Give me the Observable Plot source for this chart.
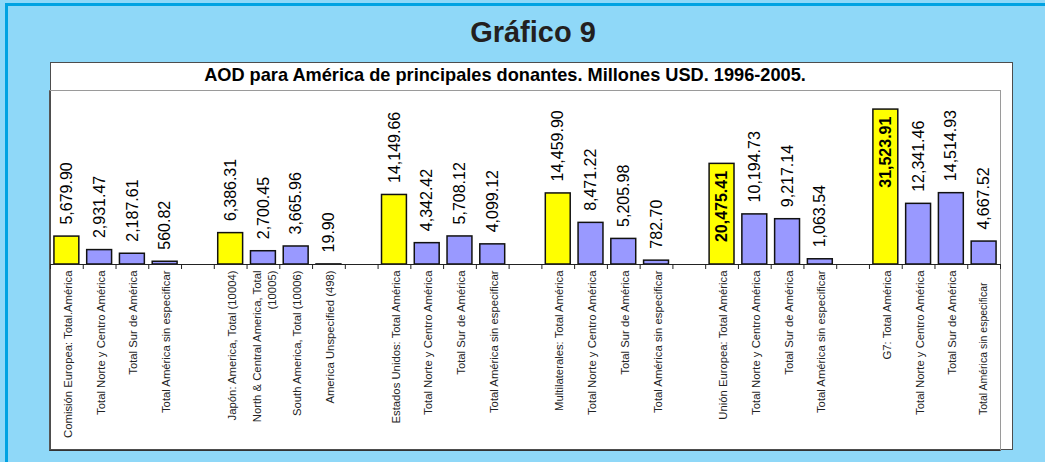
<!DOCTYPE html>
<html><head><meta charset="utf-8">
<script src="https://cdn.jsdelivr.net/npm/d3@7"></script>
<script src="https://cdn.jsdelivr.net/npm/@observablehq/plot@0.6"></script>
<style>
body{margin:0;background:#8fd8f8;width:1045px;height:462px;overflow:hidden;position:relative;font-family:"Liberation Sans",Arial,sans-serif;}
#frame{position:absolute;left:5px;top:3px;width:1100px;height:520px;border:3px solid #00a2e2;box-sizing:border-box}
#title{position:absolute;left:0;width:1066px;top:18px;text-align:center;font-weight:bold;font-size:29px;line-height:29px;color:#231f20}
#box{position:absolute;left:50px;top:62px;width:963px;height:388px;background:#fff;border:1px solid #4d4d4d;box-sizing:border-box}
#subtitle{position:absolute;left:0;width:1010px;top:65px;text-align:center;font-weight:bold;font-size:18.2px;line-height:20px;color:#000}
#inner{position:absolute;left:49px;top:90px;width:952px;height:361px;border:1px solid #9a9a9a;border-left-color:#555;border-bottom-color:#333;box-sizing:border-box}
#chart{position:absolute;left:0;top:0}
</style></head><body>
<div id="frame"></div>
<div id="title">Gráfico 9</div>
<div id="box"></div>
<div id="subtitle">AOD para América de principales donantes. Millones USD. 1996-2005.</div>
<div id="inner"></div>
<div id="chart"></div>
<script>
// ---- data ----
const groupLabels = [
  ["Comisión Europea: Total.América", "Total Norte y Centro América", "Total Sur de América", "Total América sin especificar"],
  ["Japón: America, Total (10004)", "North & Central America, Total\n(10005)", "South America, Total (10006)", "America Unspecified (498)"],
  ["Estados Unidos: Total América", "Total Norte y Centro América", "Total Sur de América", "Total América sin especificar"],
  ["Multilaterales: Total América", "Total Norte y Centro América", "Total Sur de América", "Total América sin especificar"],
  ["Unión Europea: Total América", "Total Norte y Centro América", "Total Sur de América", "Total América sin especificar"],
  ["G7: Total América", "Total Norte y Centro América", "Total Sur de América", "Total América sin especificar"]
];
const groupValues = [
  [5679.90, 2931.47, 2187.61, 560.82],
  [6386.31, 2700.45, 3665.96, 19.90],
  [14149.66, 4342.42, 5708.12, 4099.12],
  [14459.90, 8471.22, 5205.98, 782.70],
  [20475.41, 10194.73, 9217.14, 1063.54],
  [31523.91, 12341.46, 14514.93, 4667.52]
];
const yMax = 35000;
const insideThreshold = 20000;

// ---- build slots (4 bars per group, one empty slot between groups) ----
const rows = [];
const keys = [];
let k = 0;
groupLabels.forEach((labs, g) => {
  labs.forEach((lab, j) => {
    const key = "s" + k++;
    keys.push(key);
    rows.push({key, label: lab, value: groupValues[g][j], total: j === 0, inside: groupValues[g][j] > insideThreshold});
  });
  if (g < groupLabels.length - 1) keys.push("s" + k++);
});

const W = 1045, H = 462, mL = 50, mR = 45, mT = 92, mB = 198;
const step = (W - mL - mR) / keys.length;
const fmt = d3.format(",.2f");
const lastRow = rows[rows.length - 1];
const catRows = rows.filter(d => d !== lastRow);

const chart = Plot.plot({
  width: W, height: H,
  marginLeft: mL, marginRight: mR, marginTop: mT, marginBottom: mB,
  style: {background: "transparent", fontFamily: "'Liberation Sans', Arial, sans-serif"},
  x: {domain: keys, paddingInner: 0.24, paddingOuter: 0.12, round: false, axis: null},
  y: {domain: [0, yMax], axis: null},
  marks: [
    Plot.barY(rows.filter(d => d.total), {x: "key", y: "value", fill: "#ffff00", stroke: "#111", strokeWidth: 1.5}),
    Plot.barY(rows.filter(d => !d.total), {x: "key", y: "value", fill: "#9999ff", stroke: "#111", strokeWidth: 1.5}),
    Plot.ruleY([0], {stroke: "#222"}),
    Plot.ruleX(keys, {x: d => d, y1: 0, y2: 0, insetBottom: -5, dx: -step / 2, stroke: "#222"}),
    Plot.ruleX([keys[keys.length - 1]], {x: d => d, y1: 0, y2: 0, insetBottom: -5, dx: step / 2, stroke: "#222"}),
    Plot.text(rows.filter(d => !d.inside), {x: "key", y: "value", text: d => fmt(d.value), rotate: -90, textAnchor: "start", dy: -12, fontSize: 16, fill: "#000"}),
    Plot.text(rows.filter(d => d.inside), {x: "key", y: "value", text: d => fmt(d.value), rotate: -90, textAnchor: "end", dy: 7, fontSize: 16, fontWeight: "bold", fill: "#000"}),
    Plot.text(catRows, {x: "key", text: "label", frameAnchor: "bottom", lineAnchor: "middle", rotate: -90, textAnchor: "end", dy: 6, fontSize: 11.3, fill: "#222", lineHeight: 1.4}),
    Plot.text([lastRow], {x: "key", text: "label", frameAnchor: "bottom", lineAnchor: "middle", rotate: -90, textAnchor: "end", dy: 18, fontSize: 10.5, fill: "#222"})
  ]
});
document.getElementById("chart").appendChild(chart);
</script>
</body></html>
